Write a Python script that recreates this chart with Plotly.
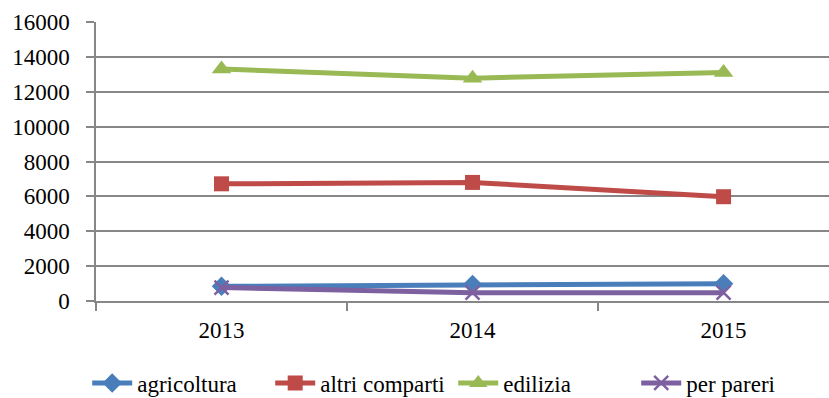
import plotly.graph_objects as go

years = ["2013", "2014", "2015"]
agricoltura = [840, 950, 990]
altri_comparti = [6720, 6800, 5980]
edilizia = [13300, 12780, 13100]
per_pareri = [770, 480, 480]

y_ticks = list(range(0, 16001, 2000))

series = [
    ("agricoltura", agricoltura, "#4A7EBB", dict(symbol="diamond", size=15)),
    ("altri comparti", altri_comparti, "#BE4B48", dict(symbol="square", size=15)),
    ("edilizia", edilizia, "#98B954", dict(symbol="triangle-up", size=17)),
    ("per pareri", per_pareri, "#7D60A0",
     dict(symbol="x-thin", size=14, line=dict(width=2.5, color="#7D60A0"))),
]

fig = go.Figure()
for name, vals, color, marker in series:
    fig.add_trace(go.Scatter(
        x=years, y=vals, name=name, mode="lines+markers",
        line=dict(color=color, width=5),
        marker=dict(color=color, **marker),
    ))

grid = "#878787"
font = dict(family="Liberation Serif", size=23, color="#000000")

fig.update_layout(
    width=829, height=398,
    margin=dict(l=96, r=0, t=22, b=97, autoexpand=False),
    paper_bgcolor="white", plot_bgcolor="white",
    font=font,
    showlegend=True,
    legend=dict(
        orientation="h", x=-0.012, xanchor="left", y=-0.294, yanchor="middle",
        font=font, itemwidth=40, entrywidth=128, entrywidthmode="pixels",
        tracegroupgap=0,
    ),
    xaxis=dict(
        type="category", range=[-0.5, 2.42],
        tickson="boundaries", ticks="outside", ticklen=8, tickwidth=1.5, tickcolor=grid,
        showline=True, linecolor=grid, linewidth=1.5, tickfont=font,
        showgrid=False, ticklabelstandoff=8, zeroline=False,
    ),
    yaxis=dict(
        range=[0, 16000], tickvals=y_ticks, ticktext=[str(v) for v in y_ticks],
        ticks="outside", ticklen=8, tickwidth=1.5, tickcolor=grid, tickfont=font,
        showline=True, linecolor=grid, linewidth=1.5,
        showgrid=True, gridcolor=grid, gridwidth=1.5,
        zeroline=False, ticklabelstandoff=12,
    ),
)

fig.write_html("out.html")
